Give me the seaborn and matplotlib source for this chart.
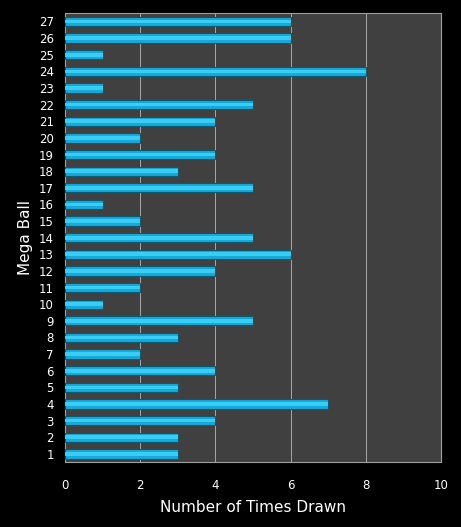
import matplotlib
matplotlib.use("Agg")
import matplotlib.pyplot as plt
import seaborn as sns
import pandas as pd

balls = [str(i) for i in range(1, 28)]
counts = [3, 3, 4, 7, 3, 4, 2, 3, 5, 1, 2, 4, 6, 5, 2, 1, 5, 3, 4, 2, 4, 5, 1, 8, 1, 6, 6]
x_ticks = [0, 2, 4, 6, 8, 10]

df = pd.DataFrame({"ball": balls, "count": counts})
order = balls[::-1]

sns.set_theme(style="dark")
plt.rcParams['font.family'] = ['DejaVu Sans']

fig = plt.figure(figsize=(4.61, 5.27), dpi=100, facecolor="black")
ax = fig.add_axes([0.141, 0.123, 0.816, 0.852])
ax.set_facecolor("#404040")

sns.barplot(data=df, x="count", y="ball", order=order, orient="h",
            color="#17A9D8", saturation=1, width=0.56,
            edgecolor="#0B5A74", linewidth=0.8, ax=ax, zorder=3)
# lighter highlight band inside each bar
sns.barplot(data=df, x="count", y="ball", order=order, orient="h",
            color="#38CDF4", saturation=1, width=0.22,
            linewidth=0, ax=ax, zorder=4)

ax.set_xlim(0, 10)
ax.set_xticks(x_ticks)
ax.xaxis.grid(True, color="#B8B8B8", linewidth=0.6, zorder=0)
ax.yaxis.grid(False)
ax.set_axisbelow(True)
for s in ax.spines.values():
    s.set_visible(True)
    s.set_color("#A0A0A0")
    s.set_linewidth(0.8)

ax.tick_params(axis="both", colors="white", labelsize=8.5, length=0, pad=8)
ax.tick_params(axis="x", pad=12)
ax.set_xlabel("Number of Times Drawn", color="white", fontsize=11, labelpad=6)
ax.set_ylabel("Mega Ball", color="white", fontsize=11, labelpad=4)

fig.savefig("out.png", dpi=100, facecolor="black")
